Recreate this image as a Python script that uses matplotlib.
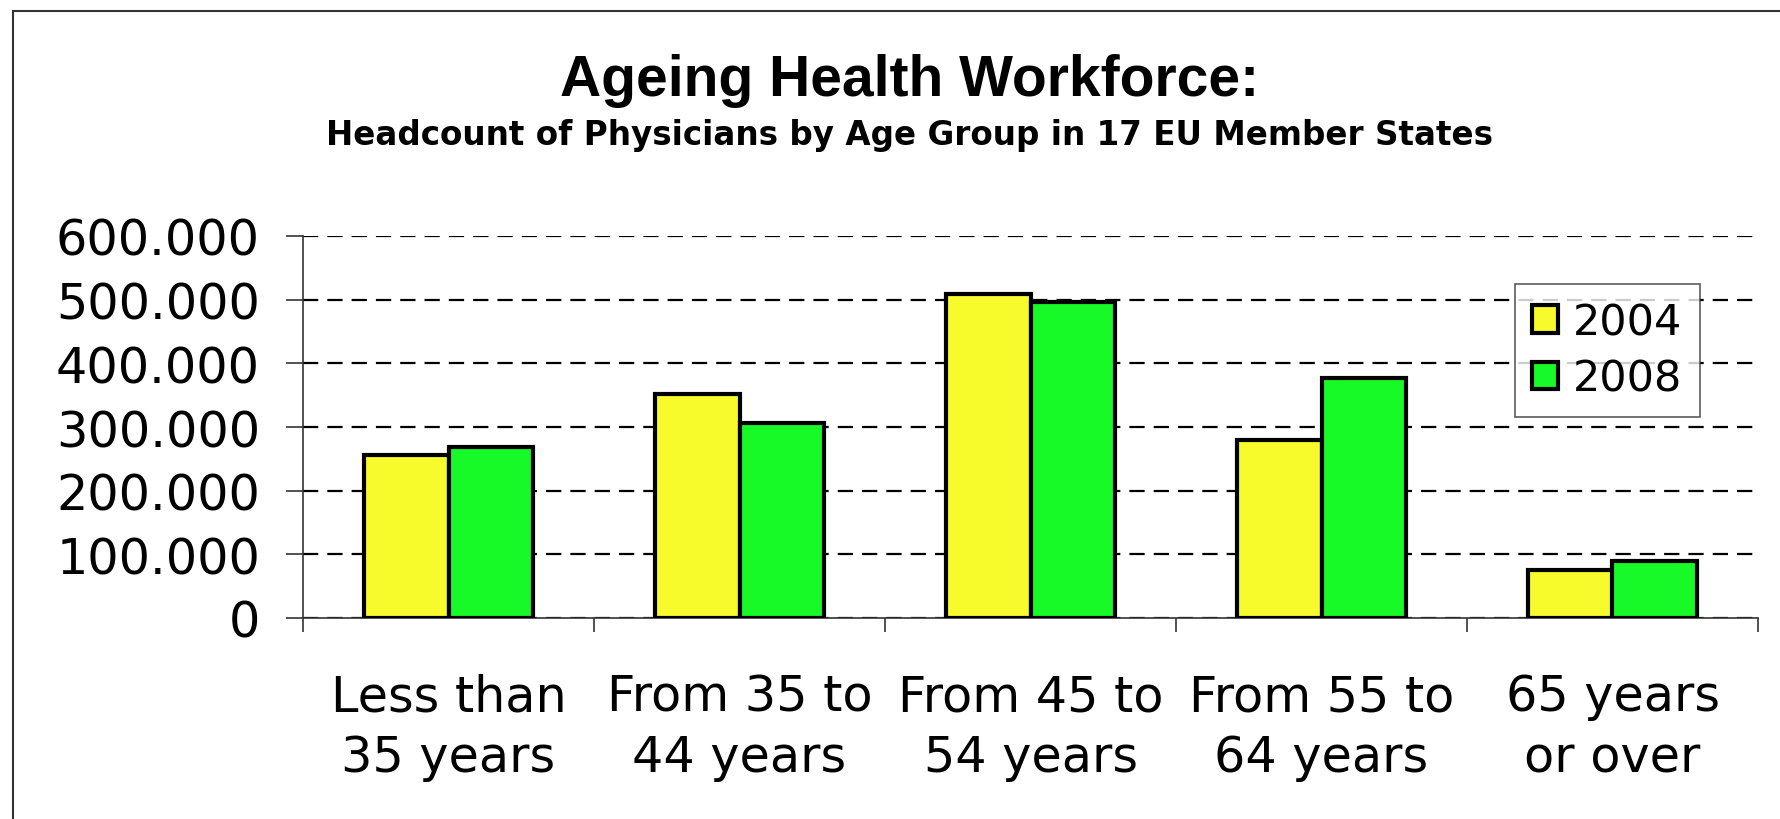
import matplotlib
matplotlib.use("Agg")
import matplotlib.pyplot as plt
import numpy as np
from matplotlib.ticker import FuncFormatter
from matplotlib.lines import Line2D

plt.rcParams['font.family'] = ['DejaVu Sans']
plt.rcParams['lines.scale_dashes'] = False

# data
age_groups = ["Less than\n35 years", "From 35 to\n44 years", "From 45 to\n54 years",
              "From 55 to\n64 years", "65 years\nor over"]
years = ["2004", "2008"]
physicians_2004 = [256000, 352000, 509000, 280000, 76000]
physicians_2008 = [268000, 306000, 496000, 377000, 89000]
colors = ["#F7FA2B", "#17FA27"]

fig = plt.figure(figsize=(17.8, 8.2), dpi=100)
ax = fig.add_axes([303 / 1780, 1 - 619 / 820, (1758 - 303) / 1780, (619 - 237) / 820])

x = np.arange(len(age_groups))
w = 0.29
ax.bar(x - w / 2, physicians_2004, w, color=colors[0], edgecolor="black", linewidth=3, label=years[0], zorder=3)
ax.bar(x + w / 2, physicians_2008, w, color=colors[1], edgecolor="black", linewidth=3, label=years[1], zorder=3)

ax.set_xlim(-0.5, len(age_groups) - 0.5)
ax.set_ylim(0, 600000)
ax.set_yticks(np.arange(0, 600001, 100000))
ax.yaxis.set_major_formatter(FuncFormatter(lambda v, p: f"{int(v):,}".replace(",", ".")))
ax.yaxis.grid(True, color="black", linewidth=1.6, linestyle=(0, (11, 6.5)))
ax.set_axisbelow(True)

ax.set_xticks(x)
ax.set_xticklabels(age_groups, fontsize=35.5, linespacing=1.35)
ax.set_xticks(np.arange(-0.5, len(age_groups)), minor=True)
ax.tick_params(axis="x", which="major", length=0, pad=39)
ax.tick_params(axis="x", which="minor", length=10, width=1.2, direction="out", color="#333333")
ax.tick_params(axis="y", labelsize=35.5, length=12, width=1.2, direction="out", pad=19, color="#333333")

for s in ["top", "right"]:
    ax.spines[s].set_visible(False)
for s in ["left", "bottom"]:
    ax.spines[s].set_linewidth(1.2)
    ax.spines[s].set_color("#333333")

leg = ax.legend(loc="upper left", bbox_to_anchor=((1515 - 303) / 1455, (619 - 285) / 382),
                fontsize=31, frameon=True, fancybox=False, edgecolor="#333333",
                handlelength=0.6, handleheight=0.6, handletextpad=0.35, borderpad=0.4,
                labelspacing=0.33, borderaxespad=0)
leg.get_frame().set_linewidth(1.2)

fig.text(0.511, 1 - 96 / 820, "Ageing Health Workforce:", ha="center", va="baseline",
         fontsize=41, fontweight="bold", family="Liberation Sans")
fig.text(0.511, 1 - 145 / 820, "Headcount of Physicians by Age Group in 17 EU Member States",
         ha="center", va="baseline", fontsize=23.5, fontweight="bold")

# chart frame (only top and left edges visible)
fig.add_artist(Line2D([13 / 1780, 13 / 1780], [0, 1 - 12 / 820], transform=fig.transFigure, color="#333333", linewidth=1.5))
fig.add_artist(Line2D([13 / 1780, 1], [1 - 12 / 820, 1 - 12 / 820], transform=fig.transFigure, color="#333333", linewidth=1.5))

fig.savefig("out.png", dpi=100)
